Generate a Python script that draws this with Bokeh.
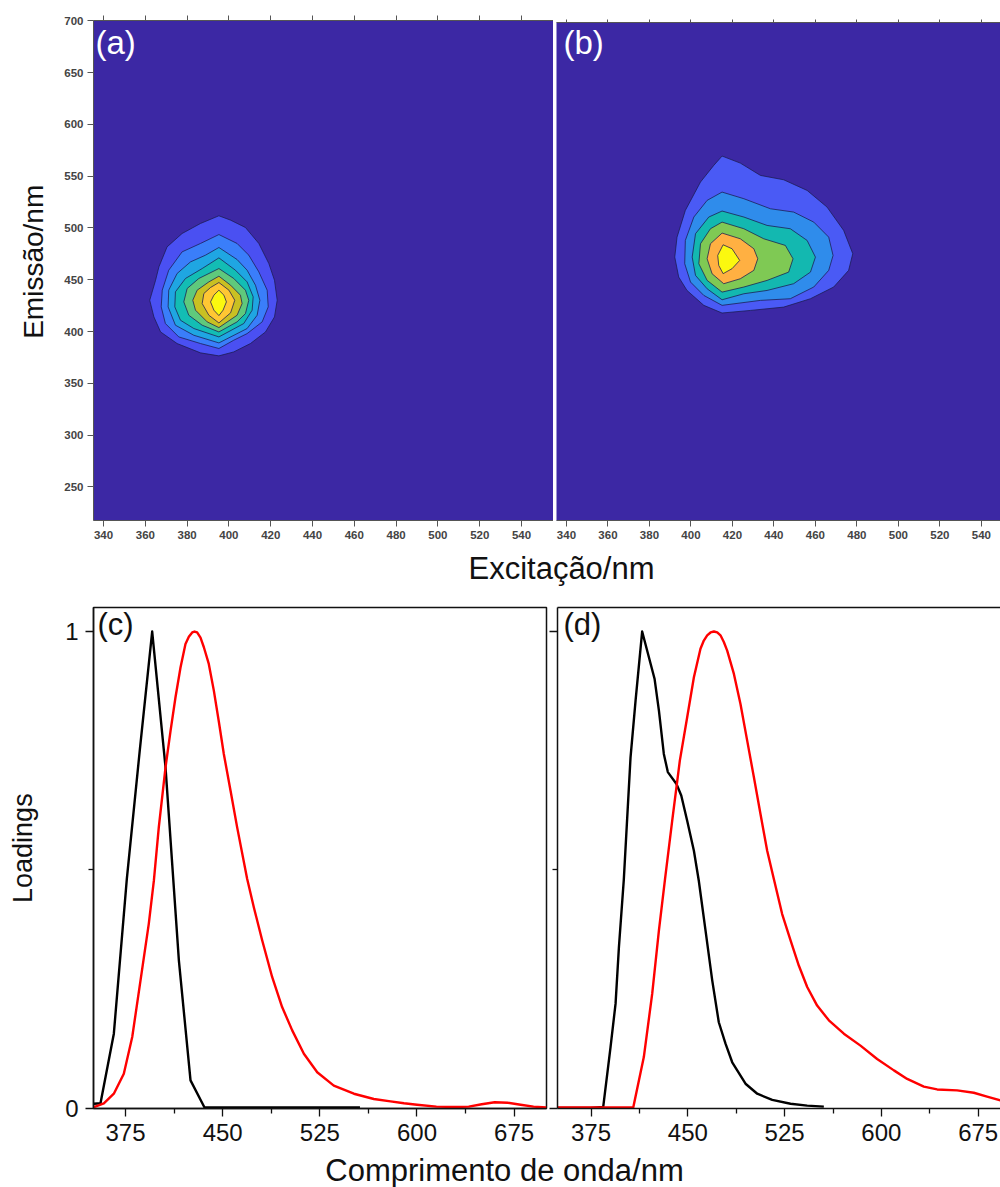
from math import pi
from bokeh.plotting import figure
from bokeh.layouts import column, row
from bokeh.models import Range1d, FixedTicker, Label, LinearAxis, Spacer
from bokeh.embed import file_html
from bokeh.resources import INLINE

# Contour levels of EEM panel (a): excitation (nm), emission (nm), outermost first
exc_a = [
    [395.2,400.8,407.9,414.3,419.1,421.8,423.1,421.8,417.5,410.3,402.3,395.2,386.4,375.2,367.3,364.1,362.1,364.9,366.5,370.4,377.6,386.4],
    [395.2,403.9,409.5,414.3,418.3,418.8,415.9,408.7,402.3,395.2,386.4,376.0,369.6,367.6,368.1,371.2,377.6,386.4],
    [395.2,403.9,408.7,412.7,414.8,413.5,408.7,395.2,383.2,374.4,370.9,371.2,375.2,381.6,388.8],
    [395.2,403.1,408.7,411.6,411.1,407.1,395.2,383.2,376.8,374.1,374.4,379.2,387.2],
    [395.2,402.3,407.9,409.5,407.9,403.9,395.2,387.2,380.8,378.4,380.0,385.6],
    [395.2,400.8,405.5,406.3,403.9,395.2,389.6,384.0,382.7,384.8,390.4],
    [395.2,400.0,402.8,400.8,395.2,390.4,387.2,388.0,391.2],
    [395.2,397.6,398.8,397.2,395.2,392.8,391.2,392.8],
]
em_a = [
    [511.7,507.5,500.4,485.0,465.6,449.5,430.2,414.1,399.6,388.4,380.3,376.5,379.4,388.4,399.6,414.1,430.2,449.5,462.4,481.7,494.6,504.3],
    [493.6,485.0,473.7,457.6,439.9,423.8,409.3,398.0,391.6,383.6,388.4,394.8,407.7,423.8,439.9,459.2,476.9,485.0],
    [481.1,469.5,459.2,444.7,430.2,415.7,402.9,389.0,396.4,406.1,423.8,439.9,456.0,467.2,473.7],
    [471.1,459.2,447.9,433.5,420.6,407.7,394.8,402.9,410.9,423.8,438.3,451.2,460.8],
    [460.8,451.2,439.9,430.2,417.3,409.3,399.6,406.1,415.7,428.6,441.5,451.2],
    [453.4,444.7,435.1,427.0,415.7,403.8,409.3,420.6,430.2,439.9,447.9],
    [447.3,439.9,430.2,418.0,408.3,415.7,427.0,436.7,442.5],
    [439.9,435.1,428.6,420.6,415.4,420.6,428.6,435.1],
]
colors_a = ["#4A50F2","#3A7EFA","#1FA6E2","#13BDB4","#5FC97C","#C9C022","#FFC733","#FBF80F"]

# Contour levels of EEM panel (b)
exc_b = [
    [415.0,423.8,433.5,444.7,456.0,465.6,473.6,478.0,476.0,468.8,457.6,444.7,428.7,415.0,406.2,398.1,394.1,392.2,393.3,397.3,404.6,411.0],
    [415.0,425.5,438.3,449.5,459.2,466.4,468.5,466.4,459.2,447.9,433.5,415.0,406.2,399.8,397.0,397.3,401.4,407.8],
    [415.0,425.5,436.7,447.9,456.0,460.0,457.6,449.5,436.7,425.5,415.0,407.8,402.2,400.6,402.2,408.6],
    [415.0,425.5,435.1,445.5,449.2,447.1,436.7,425.5,415.0,407.8,403.8,404.6,409.4],
    [415.0,423.8,430.3,432.2,430.3,423.8,415.8,410.2,407.8,409.4],
    [415.5,419.8,423.5,419.8,415.5,413.4,412.9],
]
em_b = [
    [569.6,562.8,550.9,546.7,536.4,520.3,497.8,475.3,459.2,443.1,431.8,423.7,420.5,418.0,425.4,439.8,452.7,472.0,491.3,517.1,544.5,560.6],
    [534.8,528.4,518.7,515.5,505.8,491.3,473.6,459.2,443.1,431.8,430.2,425.4,435.0,447.9,465.6,488.1,510.7,526.8],
    [516.5,510.7,502.6,499.4,488.1,472.0,457.5,446.3,439.8,436.6,430.8,441.4,454.3,472.0,494.6,510.7],
    [505.8,499.4,489.7,483.3,470.4,457.5,449.5,443.1,438.2,449.5,465.6,484.9,499.4],
    [495.2,489.7,480.1,470.4,459.2,451.1,446.3,455.9,470.4,484.9],
    [483.9,480.1,468.8,460.8,456.0,464.0,473.6],
]
colors_b = ["#4A5AF5","#2F8CEB","#13B8B0","#7FC954","#FFB042","#FBF80F"]

# Loadings of panel (c)
c_ex_w = [350.6,355.7,366,376,386,395.6,405.9,416.2,425.2,436,556]
c_ex_v = [.009,.010,.156,.48,.75,1.0,.715,.31,.058,.001,.001]
c_em_w = [350.6,358.3,366,373.7,380.2,386.6,393,396.9,400.7,405.9,409.8,413.6,417.5,421.3,423.9,426.5,428.3,430.3,432.9,435.5,439.3,443.2,447.1,450.9,456.1,461.2,468.9,474.1,480.5,488.2,495.9,503.7,512.7,523,535.8,551.3,566.7,579.6,590,600,615,630,640,650,660,670,680,690,700]
c_em_v = [.002,.010,.030,.072,.149,.268,.387,.477,.589,.715,.792,.862,.925,.974,.989,.998,1.0,.998,.987,.967,.932,.876,.810,.743,.666,.589,.481,.421,.352,.275,.212,.163,.114,.075,.047,.030,.019,.014,.010,.007,.003,.002,.003,.008,.012,.011,.007,.003,.001]

# Loadings of panel (d)
d_ex_w = [349,374.6,384.4,390.1,394,396.6,400.4,405.6,409.5,414.6,424.2,427.6,431.4,434.5,441.2,444.9,449.5,454.7,458.5,463.7,468.9,474,479.2,484.4,494.7,503.8,515.4,529.6,542.5,555.4]
d_ex_v = [0,0,.002,.128,.219,.338,.48,.736,.855,1.0,.901,.834,.743,.705,.680,.656,.603,.540,.477,.373,.268,.180,.135,.096,.051,.030,.017,.009,.005,.003]
d_em_w = [349,407.7,415.9,422.4,427.6,432.3,437.9,443.8,449.5,454.7,459.8,462.4,465,467.6,470.2,472.8,475.3,477.9,480.5,485.7,490.8,496,501.2,506.3,511.5,516.7,523.1,529.6,536,542.5,550.2,559.3,570.9,583.8,596.7,609.7,620,632.9,643.2,658.7,671.6,681.9,692.3]
d_em_v = [.001,.001,.107,.240,.373,.48,.603,.729,.820,.904,.964,.981,.992,.998,1.0,.998,.992,.978,.960,.911,.848,.771,.694,.617,.540,.48,.407,.352,.299,.254,.215,.184,.156,.131,.103,.079,.061,.045,.039,.037,.032,.024,.016]

eem_x_ticks = [340,360,380,400,420,440,460,480,500,520,540]
eem_y_ticks = [250,300,350,400,450,500,550,600,650,700]
load_x_ticks = [375,450,525,600,675]
load_x_minor = [412.5,487.5,562.5,637.5]
load_y_ticks = [0,1]
load_y_minor = [0.5]

FONT = "Liberation Sans"
GRAY = "#444444"
BG = "#3C28A4"


def style_eem_axis(ax, ticks):
    ax.ticker = FixedTicker(ticks=ticks)
    ax.axis_line_color = "#555555"
    ax.major_tick_line_color = "#555555"
    ax.major_tick_out = 6
    ax.major_tick_in = 0
    ax.minor_tick_line_color = None
    ax.major_label_text_font = FONT
    ax.major_label_text_font_style = "bold"
    ax.major_label_text_font_size = "11.5px"
    ax.major_label_text_color = GRAY
    ax.major_label_standoff = 4


def eem_panel(exc, em, cols, x_end, y_end, w, h, left, tag, tag_x, has_y):
    p = figure(width=w, height=h, toolbar_location=None, output_backend="svg",
               x_range=Range1d(335.2, x_end), y_range=Range1d(217.6, y_end),
               min_border_left=left, min_border_right=0, min_border_top=20, min_border_bottom=25,
               y_axis_location="left" if has_y else None, outline_line_color=None,
               background_fill_color=BG, border_fill_color="white")
    p.grid.visible = False
    for xs, ys, c in zip(exc, em, cols):
        p.patch(xs, ys, fill_color=c, line_color="#1c1c50", line_width=0.9, line_alpha=0.85, line_join="round")
    style_eem_axis(p.xaxis[0], eem_x_ticks)
    if has_y:
        style_eem_axis(p.yaxis[0], eem_y_ticks)
    above = LinearAxis(major_label_overrides={t: "" for t in eem_x_ticks})
    style_eem_axis(above, eem_x_ticks)
    above.major_tick_out = 5 if has_y else 3
    above.major_label_text_font_size = "1px"
    above.major_label_standoff = 0
    p.add_layout(above, "above")
    p.add_layout(Label(x=tag_x, y=478, x_units="screen", y_units="screen", text=tag, text_baseline="alphabetic",
                       text_font=FONT, text_font_size="33px", text_color="white"))
    return p


def style_load_axis(ax, ticks, minors, labels=True):
    ax.ticker = FixedTicker(ticks=ticks, minor_ticks=minors)
    ax.axis_line_color = "#111111"
    ax.axis_line_width = 1.5
    ax.major_tick_line_color = "#111111"
    ax.minor_tick_line_color = "#111111"
    ax.major_tick_line_width = 1.3
    ax.minor_tick_line_width = 1.3
    ax.major_tick_out = 8
    ax.major_tick_in = 0
    ax.minor_tick_out = 5
    ax.minor_tick_in = 0
    ax.major_label_text_font = FONT
    ax.major_label_text_font_size = "24px"
    ax.major_label_text_color = "#111111"
    ax.major_label_standoff = 7
    if not labels:
        ax.major_label_overrides = {t: "" for t in ticks}
        ax.major_label_text_font_size = "1px"
        ax.major_label_standoff = 0


def load_panel(ex_w, ex_v, em_w, em_v, x_start, x_end, w, left, right, tag, tag_x, y_labels, outline):
    p = figure(width=w, height=560, toolbar_location=None, output_backend="svg",
               x_range=Range1d(x_start, x_end), y_range=Range1d(-0.001, 1.0504),
               min_border_left=left, min_border_right=right, min_border_top=17, min_border_bottom=42,
               outline_line_color="#111111" if outline else None, outline_line_width=1.5,
               background_fill_color="white", border_fill_color="white")
    p.grid.visible = False
    p.line(ex_w, ex_v, line_color="black", line_width=2.4, line_join="round")
    p.line(em_w, em_v, line_color="#FF0000", line_width=2.4, line_join="round")
    style_load_axis(p.xaxis[0], load_x_ticks, load_x_minor)
    style_load_axis(p.yaxis[0], load_y_ticks, load_y_minor, y_labels)
    if not outline:
        top_ax = LinearAxis(axis_line_color="#111111", axis_line_width=1.5)
        top_ax.ticker = FixedTicker(ticks=[])
        top_ax.major_tick_line_color = None
        top_ax.minor_tick_line_color = None
        p.add_layout(top_ax, "above")
    p.add_layout(Label(x=tag_x, y=484, x_units="screen", y_units="screen", text=tag, text_baseline="alphabetic",
                       text_font=FONT, text_font_size="31px", text_color="#111111"))
    return p


def strip(text, w, h, cx, cy, size, angle=0.0):
    p = figure(width=w, height=h, toolbar_location=None, output_backend="svg",
               x_range=Range1d(0, w), y_range=Range1d(0, h), min_border=0,
               x_axis_location=None, y_axis_location=None, outline_line_color=None,
               border_fill_color="white", background_fill_color="white")
    p.grid.visible = False
    p.add_layout(Label(x=cx, y=cy, text=text, text_font=FONT, text_font_size=size, angle=angle,
                       text_align="center", text_baseline="middle", text_color="#111111"))
    return p


ya = strip("Emissão/nm", 60, 545, 33, 282, "28px", pi / 2)
pa = eem_panel(exc_a, em_a, colors_a, 555.3, 700.2, 493, 545, 33, "(a)", 2, True)
pb = eem_panel(exc_b, em_b, colors_b, 549.2, 698.6, 447, 543, 3, "(b)", 7, False)
s1 = strip("Excitação/nm", 1000, 45, 561, 22, "31px")

yc = strip("Loadings", 60, 560, 22, 291, "27px", pi / 2)
pc = load_panel(c_ex_w, c_ex_v, c_em_w, c_em_v, 350.3, 700, 488, 33, 2, "(c)", 4, True, True)
pd = load_panel(d_ex_w, d_ex_v, d_em_w, d_em_v, 349, 692.3, 452, 9, 0, "(d)", 6, False, False)
s2 = strip("Comprimento de onda/nm", 1000, 37, 504, 17, "31px")

layout = column(row(ya, pa, column(Spacer(width=447, height=2), pb, spacing=0), spacing=0),
                s1, row(yc, pc, pd, spacing=0), s2, spacing=0)
open("out.html", "w").write(file_html(layout, INLINE))
